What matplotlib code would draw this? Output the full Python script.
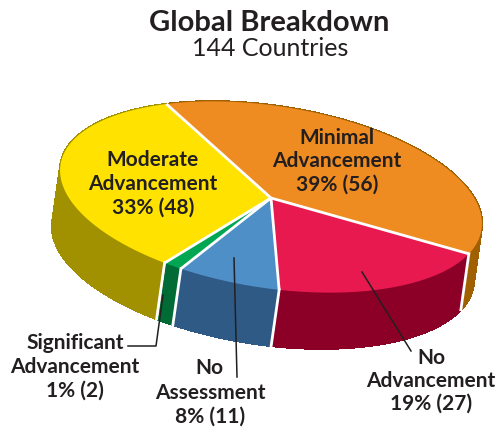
import numpy as np
import matplotlib
matplotlib.use("Agg")
import matplotlib.pyplot as plt
from matplotlib.collections import PolyCollection

names = ["Minimal Advancement", "No Advancement", "No Assessment", "Significant Advancement", "Moderate Advancement"]
values = [56, 27, 11, 2, 48]
top_colors = ["#EF8C21", "#E7194F", "#4F8FC7", "#00A651", "#FFE200"]
side_colors = ["#A06000", "#8C0028", "#2F5A85", "#006B35", "#A19100"]

plt.rcParams['font.family'] = ['Lato', 'DejaVu Sans']
fig = plt.figure(figsize=(4.98, 4.29), dpi=100)
ax = fig.add_axes([0, 0, 1, 1])
ax.set_xlim(0, 498); ax.set_ylim(429, 0); ax.axis('off')

cx, cy, a, b, phi = 271, 197, 213, 91, np.radians(8.8)
apex = np.array([271, 198])
depth = np.array([-8, 56])
start = 123.5

def rim(t):
    t = np.radians(t)
    return np.column_stack([
        cx + a*np.cos(t)*np.cos(phi) + b*np.sin(t)*np.sin(phi),
        cy + a*np.cos(t)*np.sin(phi) - b*np.sin(t)*np.cos(phi)])

angles = start - np.concatenate([[0], np.cumsum(values)]) / sum(values) * 360
for i in range(len(values)):
    arc = rim(np.linspace(angles[i], angles[i+1], 60))
    quads = [np.array([arc[j], arc[j+1], arc[j+1] + depth, arc[j] + depth]) for j in range(len(arc) - 1)]
    ax.add_collection(PolyCollection(quads, facecolors=side_colors[i], edgecolors=side_colors[i],
                                     linewidths=1.0, antialiaseds=False, zorder=2))
for i in range(len(values)):
    arc = rim(np.linspace(angles[i], angles[i+1], 200))
    top = np.vstack([apex, arc])
    ax.fill(top[:, 0], top[:, 1], color=top_colors[i], lw=0, zorder=3)
for i, ang in enumerate(angles[:-1]):
    p = rim(np.array([ang]))[0]
    ax.plot([apex[0], p[0]], [apex[1], p[1]], color='white', lw=2.0, zorder=4, solid_capstyle='butt')
    if i > 0:
        q = p + depth
        ax.plot([p[0], q[0]], [p[1], q[1]], color='white', lw=2.0, zorder=4, solid_capstyle='projecting')

line = dict(color='#231F20', lw=1.1, zorder=5)
ax.plot([163, 156, 128], [295, 346, 346], **line)
ax.plot([234, 237], [258, 377], **line)
ax.plot([362, 411], [272, 351], **line)

def label(x, y, s, size=15, weight='bold'):
    ax.text(x, y, s, ha='center', va='center', fontsize=size, fontweight=weight, color='#231F20', zorder=6)

ax.text(269, 23, "Global Breakdown", ha='center', va='center', fontsize=21, fontweight='bold', color='#231F20')
ax.text(270, 49, "144 Countries", ha='center', va='center', fontsize=18, color='#231F20')
label(337, 138, "Minimal"); label(337, 161, "Advancement"); label(337, 185, "39% (56)")
label(153, 160, "Moderate"); label(153, 184, "Advancement"); label(153, 208, "33% (48)")
label(75, 343, "Significant"); label(75, 367, "Advancement"); label(75, 391, "1% (2)")
label(209, 368, "No"); label(210, 393, "Assessment"); label(210, 417, "8% (11)")
label(431, 358, "No"); label(431, 381, "Advancement"); label(431, 404, "19% (27)")

fig.savefig("out.png", dpi=100)
